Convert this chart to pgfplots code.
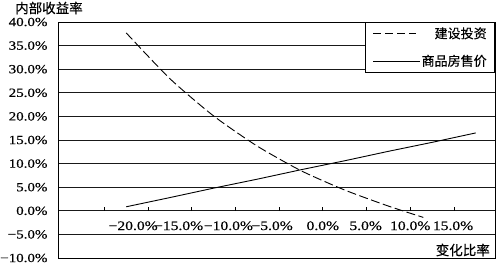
\documentclass[border=0pt]{standalone}
\usepackage{pgfplots}
\pgfplotsset{compat=1.18}
\usepackage{fontspec}
\setmainfont{Liberation Serif}[FakeStretch=1.2, FakeBold=0.4]
\newfontfamily\cjk{Noto Sans CJK SC}[FakeBold=0.3]
\begin{document}
\begin{tikzpicture}[x=1pt,y=1pt]
\useasboundingbox (0,0) rectangle (497,264);
\begin{axis}[
  at={(58pt,6pt)}, anchor=south west,
  scale only axis, width=437pt, height=236pt,
  xmin=-30.3, xmax=19.7, ymin=-10, ymax=40,
  xtick=\empty,
  ytick={-10,-5,0,5,10,15,20,25,30,35,40},
  yticklabels={−10.0\%,−5.0\%,0.0\%,5.0\%,10.0\%,15.0\%,20.0\%,25.0\%,30.0\%,35.0\%,40.0\%},
  yticklabel style={font=\fontsize{12.5}{14}\selectfont, xshift=-7pt, inner ysep=0pt},
  major tick length=0pt,
  ymajorgrids, grid style={black!90, line width=0.7pt},
  axis line style={black, line width=0.7pt},
  clip=false,
  legend style={at={(rel axis cs:1,1)}, anchor=north east, draw=black, line width=0.7pt, fill=white,
    font=\fontsize{13}{15}\selectfont\cjk, row sep=13pt, inner xsep=7pt, inner ysep=4pt,
    nodes={inner sep=1pt}},
  legend cell align=right,
]
\addplot[black, line width=0.9pt, dash pattern=on 9pt off 3.5pt, smooth, tension=0.4,
  legend image code/.code={\draw[dash pattern=on 8pt off 4pt, line width=0.9pt] (0pt,0pt) -- (43pt,0pt);}]
  coordinates {(-22.5,37.7) (-17.5,28.0) (-12.5,20.1) (-7.5,13.7) (-2.5,8.5) (2.5,4.4) (7.5,1.0) (11.5,-1.4)};
\addlegendentry{建设投资}
\addplot[black, line width=0.9pt,
  legend image code/.code={\draw[line width=0.9pt] (0pt,0pt) -- (47pt,0pt);}]
  coordinates {(-22.5,0.85) (-17.5,2.8) (-12.5,4.8) (-7.5,6.7) (-2.5,8.7) (2.5,10.6) (7.5,12.6) (12.5,14.5) (17.5,16.5)};
\addlegendentry{商品房售价}
\draw[line width=0.7pt] (axis cs:-25,0) -- ++(0pt,4pt);
\draw[line width=0.7pt] (axis cs:-20,0) -- ++(0pt,4pt);
\draw[line width=0.7pt] (axis cs:-15,0) -- ++(0pt,4pt);
\draw[line width=0.7pt] (axis cs:-10,0) -- ++(0pt,4pt);
\draw[line width=0.7pt] (axis cs:-5,0) -- ++(0pt,4pt);
\draw[line width=0.7pt] (axis cs:0,0) -- ++(0pt,4pt);
\draw[line width=0.7pt] (axis cs:5,0) -- ++(0pt,4pt);
\draw[line width=0.7pt] (axis cs:10,0) -- ++(0pt,4pt);
\draw[line width=0.7pt] (axis cs:15,0) -- ++(0pt,4pt);
\begin{scope}[font=\fontsize{13}{15}\selectfont]
\node at (axis cs:-21.7,0) [yshift=-15pt] {−20.0\%};
\node at (axis cs:-16.5,0) [yshift=-15pt] {−15.0\%};
\node at (axis cs:-10.8,0) [yshift=-15pt] {−10.0\%};
\node at (axis cs:-5.8,0) [yshift=-15pt] {−5.0\%};
\node at (axis cs:0,0) [yshift=-15pt] {0.0\%};
\node at (axis cs:4.9,0) [yshift=-15pt] {5.0\%};
\node at (axis cs:10,0) [yshift=-15pt] {10.0\%};
\node at (axis cs:14.9,0) [yshift=-15pt] {15.0\%};
\end{scope}
\end{axis}
\node[anchor=west, font=\fontsize{13.5}{15}\selectfont\cjk, inner sep=0pt] at (15,256) {内部收益率};
\node[anchor=east, font=\fontsize{13.5}{15}\selectfont\cjk, inner sep=0pt] at (490,14) {变化比率};
\end{tikzpicture}
\end{document}
